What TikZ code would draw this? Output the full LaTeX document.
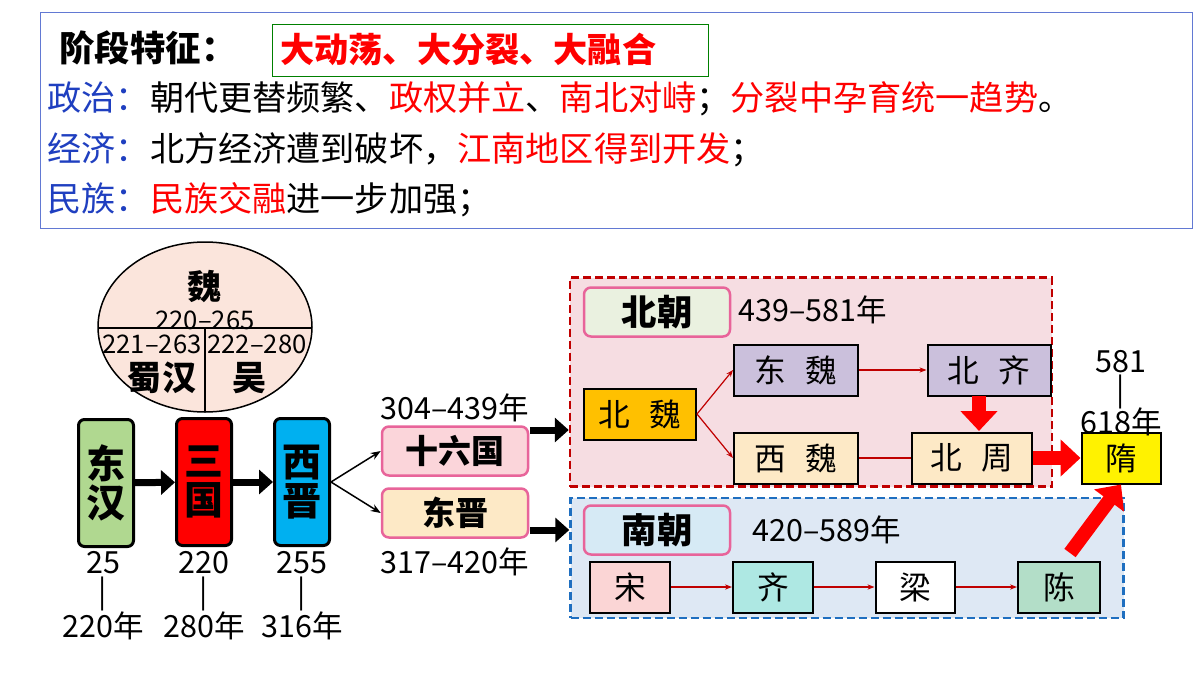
\documentclass[tikz,border=0pt]{standalone}
\usepackage{fontspec}
\setmainfont{Noto Sans CJK SC}
\usetikzlibrary{arrows.meta}
\definecolor{tblue}{HTML}{1F3FC0}
\definecolor{tred}{HTML}{FF0000}
\definecolor{dred}{HTML}{C00000}
\definecolor{pinkb}{HTML}{E8649A}
\definecolor{cgreen}{HTML}{B0D890}
\definecolor{ccyan}{HTML}{00B0F0}
\definecolor{cpink}{HTML}{FBD5DA}
\definecolor{cpeach}{HTML}{FDE9C6}
\definecolor{cnbg}{HTML}{F6DDE2}
\definecolor{csbg}{HTML}{DEE8F4}
\definecolor{clg}{HTML}{EAF1E0}
\definecolor{clb}{HTML}{D6EAF5}
\definecolor{corange}{HTML}{FFC000}
\definecolor{cpurple}{HTML}{CBC0DC}
\definecolor{csong}{HTML}{FBD5D5}
\definecolor{cqi}{HTML}{AEE8E3}
\definecolor{cchen}{HTML}{B3DEC8}
\definecolor{cell}{HTML}{FBE5DC}
\definecolor{dblue}{HTML}{1F6FC0}
\newcommand{\fs}[1]{\fontsize{\fpeval{#1*1.22}pt}{\fpeval{#1*1.22}pt}\selectfont}
\tikzset{
  vbox/.style={draw=black,line width=3pt,rounded corners=6pt,minimum width=55pt,minimum height=127pt,align=center,font=\fs{32}\bfseries,inner sep=0pt},
  pbox/.style={draw=pinkb,line width=2.5pt,rounded corners=7pt,minimum width=146pt,minimum height=49pt,font=\fs{27}\bfseries},
  sbox/.style={draw=black,line width=2pt,font=\fs{26},inner sep=0pt,minimum height=51pt},
  yr/.style={font=\fs{25}},
  barr/.style={line width=7pt,-{Triangle[length=14pt,width=24pt]}},
  rarr/.style={red,line width=14pt,-{Triangle[length=20pt,width=36pt]}},
  thinr/.style={dred,line width=1.2pt,-{Stealth[length=7pt]}},
}
\begin{document}
\begin{tikzpicture}[x=1pt,y=-1pt]
\useasboundingbox (0,0) rectangle (1200,675);
\fill[white] (0,0) rectangle (1200,675);
% top panel
\draw[tblue!70,line width=1pt] (40,12) rectangle (1192,228);
\node[font=\fs{29}\bfseries,anchor=west] (jd) at (56,48) {阶段特征：};
\node[draw=green!50!black,line width=0.8pt,minimum width=436pt,minimum height=52pt,font=\fs{28}\bfseries,text=tred,anchor=west,text width=420pt] (tz) at (272,50) {大动荡、大分裂、大融合};
\node[font=\fs{28},anchor=west] (l1) at (44,99) {\textcolor{tblue}{政治：}朝代更替频繁、\textcolor{tred}{政权并立}、\textcolor{tred}{南北对峙}；\textcolor{tred}{分裂中孕育统一趋势}。};
\node[font=\fs{28},anchor=west] (l2) at (44,150) {\textcolor{tblue}{经济：}北方经济遭到破坏，\textcolor{tred}{江南地区得到开发}；};
\node[font=\fs{28},anchor=west] (l3) at (44,200) {\textcolor{tblue}{民族：}\textcolor{tred}{民族交融}进一步加强；};
% ellipse
\draw[fill=cell,line width=1.5pt] (205,327) ellipse [x radius=107,y radius=85];
\draw[line width=1.5pt] (98,328) -- (312,328);
\draw[line width=1.5pt] (205,328) -- (205,412);
\node[font=\fs{28}\bfseries] (wei) at (205,287) {魏};
\node[font=\fs{21}] (wy) at (205,320) {220–265};
\node[font=\fs{21}] (sy) at (152,344) {221–263};
\node[font=\fs{21}] (wuy) at (257,344) {222–280};
\node[font=\fs{28}\bfseries] (sh) at (162,378) {蜀汉};
\node[font=\fs{28}\bfseries] (wu) at (250,378) {吴};
% vertical boxes
\node[vbox,fill=cgreen] (dh) at (106,483) {东\\汉};
\node[vbox,fill=red] (sg) at (204,482) {三\\国};
\node[vbox,fill=ccyan] (xj) at (302,482) {西\\晋};
\draw[barr] (dh) -- (sg);
\draw[barr] (sg) -- (xj);
\node[yr] at (103,563) {25};
\node[yr] at (103,594) {|};
\node[yr] at (103,626) {220年};
\node[yr] at (204,563) {220};
\node[yr] at (204,594) {|};
\node[yr] at (204,626) {280年};
\node[yr] at (302,563) {255};
\node[yr] at (302,594) {|};
\node[yr] at (302,626) {316年};
% sixteen / east jin
\node[pbox,fill=cpink] (slg) at (455,451) {十六国};
\node[pbox,fill=cpeach] (dj) at (455,513) {东晋};
\node[yr] at (455,408) {304–439年};
\node[yr] at (455,562) {317–420年};
\draw[line width=1.5pt,-{Stealth[length=10pt]}] (xj.east) -- (slg.west);
\draw[line width=1.5pt,-{Stealth[length=10pt]}] (xj.east) -- (dj.west);
% north dynasties
\node[draw=dred,line width=2.5pt,fill=cnbg,minimum width=482pt,minimum height=209pt,dash pattern=on 8pt off 4pt] (nbg) at (811,382) {};
\node[draw=dblue,line width=2.5pt,fill=csbg,minimum width=553pt,minimum height=120pt,dash pattern=on 8pt off 4pt] (sbg) at (847,558) {};
\coordinate (na) at (530,430);
\coordinate (sa) at (530,530);
\draw[barr] (na) -- (nbg.west |- na);
\draw[barr] (sa) -- (sbg.west |- sa);
\node[pbox,fill=clg,font=\fs{29}\bfseries] (bc) at (657,312) {北朝};
\node[yr] at (813,310) {439–581年};
\node[pbox,fill=clb,font=\fs{29}\bfseries] (nc) at (657,530) {南朝};
\node[yr] at (827,530) {420–589年};
\node[sbox,fill=corange,minimum width=112pt] (bw) at (640,414) {北\hspace{0.6em}魏};
\node[sbox,fill=cpurple,minimum width=124pt] (dw) at (796,370) {东\hspace{0.6em}魏};
\node[sbox,fill=cpurple,minimum width=123pt] (bq) at (989,370) {北\hspace{0.6em}齐};
\node[sbox,fill=cpeach,minimum width=124pt] (xw) at (796,458) {西\hspace{0.6em}魏};
\node[sbox,fill=cpeach,minimum width=120pt] (bz) at (972,458) {北\hspace{0.6em}周};
\node[sbox,fill=yellow,minimum width=79pt] (sui) at (1121,458) {隋};
\node[yr] at (1121,362) {581};
\node[yr] at (1121,392) {|};
\node[yr] at (1121,422) {618年};
\draw[thinr] (bw.east) -- (dw.west);
\draw[thinr] (bw.east) -- (xw.west);
\draw[thinr] (dw) -- (bq);
\draw[dred,line width=1.2pt] (xw) -- (bz);
\node[sbox,fill=csong,minimum width=80pt] (song) at (630,587) {宋};
\node[sbox,fill=cqi,minimum width=80pt] (qi) at (773,587) {齐};
\node[sbox,fill=white,minimum width=79pt] (liang) at (915,587) {梁};
\node[sbox,fill=cchen,minimum width=82pt] (chen) at (1059,587) {陈};
\draw[thinr] (song) -- (qi);
\draw[thinr] (qi) -- (liang);
\draw[thinr] (liang) -- (chen);
\coordinate (dtop) at (979,396);
\coordinate (dbot) at (979,431);
\draw[rarr] (dtop) -- (dbot);
\draw[rarr] (bz.east) -- (sui.west);
\coordinate (cs) at (1070,553);
\draw[rarr] (cs) -- (sui.south);
\end{tikzpicture}
\end{document}
